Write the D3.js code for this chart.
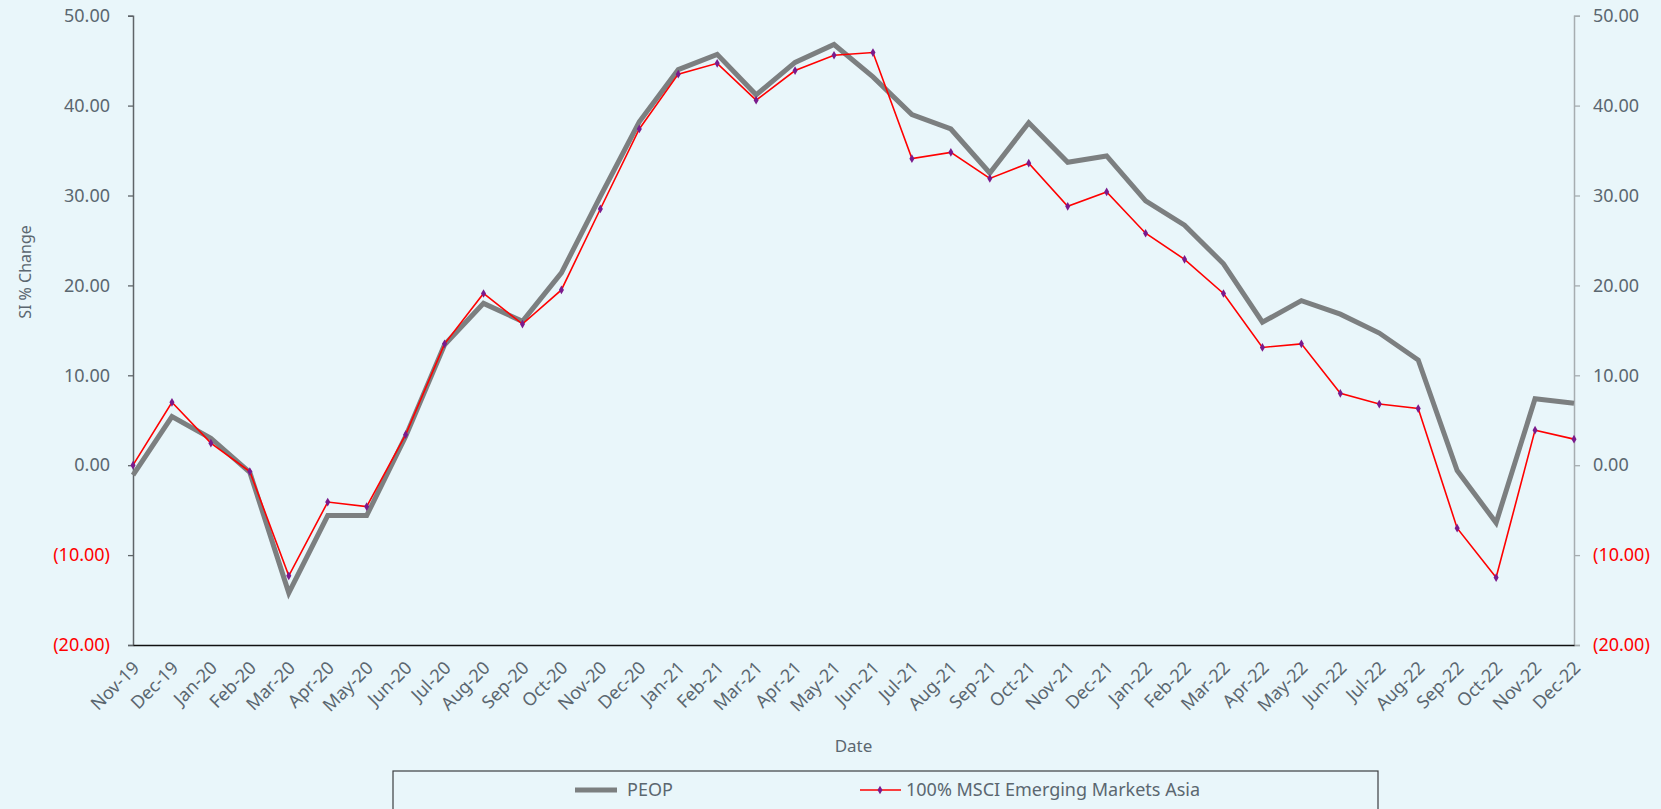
<!DOCTYPE html>
<html>
<head>
<meta charset="utf-8">
<script src="https://cdn.jsdelivr.net/npm/d3@7"></script>
<style>
  html, body { margin: 0; padding: 0; background: #e9f6fa; }
  svg { display: block; font-family: "Noto Sans", sans-serif; }
</style>
</head>
<body>
<svg id="chart" width="1661" height="809"></svg>
<script>
// Monthly since-inception % change
const months = ["Nov-19","Dec-19","Jan-20","Feb-20","Mar-20","Apr-20","May-20","Jun-20","Jul-20","Aug-20","Sep-20","Oct-20",
  "Nov-20","Dec-20","Jan-21","Feb-21","Mar-21","Apr-21","May-21","Jun-21","Jul-21","Aug-21","Sep-21","Oct-21",
  "Nov-21","Dec-21","Jan-22","Feb-22","Mar-22","Apr-22","May-22","Jun-22","Jul-22","Aug-22","Sep-22","Oct-22","Nov-22","Dec-22"];

const peop = [-1.1, 5.4, 3.0, -0.8, -14.2, -5.6, -5.6, 3.2, 13.4, 18.0, 16.0, 21.4,
  29.9, 38.2, 44.0, 45.7, 41.2, 44.8, 46.8, 43.2, 39.0, 37.4, 32.5, 38.1,
  33.7, 34.4, 29.4, 26.7, 22.4, 15.9, 18.3, 16.8, 14.7, 11.7, -0.6, -6.4, 7.4, 6.9];

const msciAsia = [0.0, 7.0, 2.45, -0.7, -12.3, -4.1, -4.6, 3.4, 13.5, 19.1, 15.7, 19.5,
  28.5, 37.4, 43.5, 44.7, 40.6, 43.9, 45.6, 45.9, 34.1, 34.8, 31.9, 33.6,
  28.8, 30.4, 25.8, 22.9, 19.1, 13.1, 13.5, 8.0, 6.8, 6.3, -7.0, -12.5, 3.9, 2.9];

const yTicks = [-20, -10, 0, 10, 20, 30, 40, 50];
const seriesNames = ["PEOP", "100% MSCI Emerging Markets Asia"];

const svg = d3.select("#chart");
const plotLeft = 133, plotRight = 1574, plotTop = 15.7, plotBottom = 645;
const textGray = "#5b6770";

const x = d3.scalePoint().domain(months).range([plotLeft, plotRight]);
const y = d3.scaleLinear().domain([-20, 50]).range([plotBottom, plotTop]);

const fmt = v => v < 0 ? "(" + d3.format(".2f")(-v) + ")" : d3.format(".2f")(v);

// Left value axis
const yLeft = svg.append("g").attr("transform", `translate(${plotLeft},0)`)
  .call(d3.axisLeft(y).tickValues(yTicks).tickFormat(fmt).tickSize(5).tickPadding(18));
yLeft.select(".domain").attr("stroke", "#5f6468").attr("stroke-width", 1.5);
yLeft.selectAll(".tick line").attr("stroke", "#5f6468").attr("stroke-width", 1.3);
yLeft.selectAll(".tick text")
  .attr("font-family", "Noto Sans").attr("font-size", 18)
  .attr("fill", d => d < 0 ? "#ff0000" : textGray);

// Right value axis
const yRight = svg.append("g").attr("transform", `translate(${plotRight},0)`)
  .call(d3.axisRight(y).tickValues(yTicks).tickFormat(fmt).tickSize(6).tickPadding(13));
yRight.select(".domain").attr("stroke", "#a6adb0").attr("stroke-width", 1.5);
yRight.selectAll(".tick line").attr("stroke", "#a6adb0").attr("stroke-width", 1.3);
yRight.selectAll(".tick text")
  .attr("font-family", "Noto Sans").attr("font-size", 18)
  .attr("fill", d => d < 0 ? "#ff0000" : textGray);

// Category axis along the bottom
const xAxis = svg.append("g").attr("transform", `translate(0,${plotBottom})`)
  .call(d3.axisBottom(x).tickSize(0).tickSizeOuter(0).tickPadding(0));
xAxis.select(".domain").attr("stroke", "#111").attr("stroke-width", 1.5);
xAxis.selectAll(".tick text")
  .attr("font-family", "Noto Sans").attr("font-size", 18).attr("fill", textGray)
  .attr("text-anchor", "end")
  .attr("dy", 0).attr("y", 0)
  .attr("transform", "translate(7,24) rotate(-45)");

// Axis titles
svg.append("text").attr("x", (plotLeft + plotRight) / 2).attr("y", 752)
  .attr("text-anchor", "middle").attr("font-size", 17).attr("fill", textGray).text("Date");
svg.append("text").attr("transform", "translate(31,272) rotate(-90)")
  .attr("text-anchor", "middle").attr("font-size", 16).attr("fill", textGray).text("SI % Change");

// Series lines
const line = d3.line().x((d, i) => x(months[i])).y(d => y(d));

svg.append("path").datum(peop).attr("d", line)
  .attr("fill", "none").attr("stroke", "#7c7f80").attr("stroke-width", 5)
  .attr("stroke-linejoin", "miter");

svg.append("path").datum(msciAsia).attr("d", line)
  .attr("fill", "none").attr("stroke", "#ff0000").attr("stroke-width", 1.6);

const marker = d3.symbol().type(d3.symbolDiamond).size(22);
svg.append("g").selectAll("path").data(msciAsia).join("path")
  .attr("transform", (d, i) => `translate(${x(months[i])},${y(d)})`)
  .attr("d", marker).attr("fill", "#7a1a8c");

// Legend
const legend = svg.append("g");
legend.append("rect").attr("x", 393).attr("y", 771).attr("width", 985).attr("height", 60)
  .attr("fill", "none").attr("stroke", "#3c3f41").attr("stroke-width", 1.2);

legend.append("line").attr("x1", 575).attr("x2", 617).attr("y1", 790).attr("y2", 790)
  .attr("stroke", "#7c7f80").attr("stroke-width", 5);
legend.append("text").attr("x", 627).attr("y", 796).attr("font-size", 18)
  .attr("fill", textGray).text(seriesNames[0]);

legend.append("line").attr("x1", 860).attr("x2", 901).attr("y1", 790).attr("y2", 790)
  .attr("stroke", "#ff0000").attr("stroke-width", 1.6);
legend.append("path").attr("transform", "translate(880,790)").attr("d", marker).attr("fill", "#7a1a8c");
legend.append("text").attr("x", 906).attr("y", 796).attr("font-size", 18)
  .attr("fill", textGray).text(seriesNames[1]);
</script>
</body>
</html>
